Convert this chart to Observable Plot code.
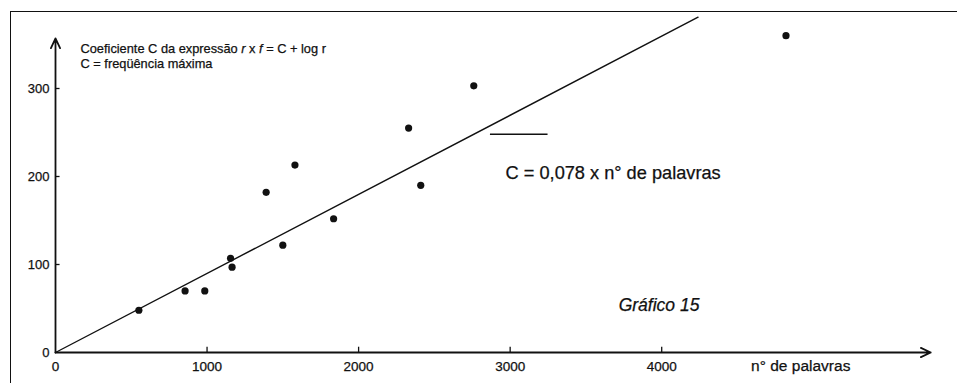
<!DOCTYPE html>
<html><head><meta charset="utf-8">
<script src="https://cdn.jsdelivr.net/npm/d3@7"></script>
<script src="https://cdn.jsdelivr.net/npm/@observablehq/plot@0.6"></script>
<style>
body{margin:0;background:#fff;}
#wrap{position:relative;width:957px;height:385px;overflow:hidden;}
#border{position:absolute;left:10px;top:11px;right:-5px;bottom:2px;border-left:1.5px solid #111;border-top:1.5px solid #111;pointer-events:none;}
svg{font-family:"Liberation Sans",Arial,sans-serif;}
svg text{stroke:#111;stroke-width:0.25px;}
</style></head><body>
<div id="wrap"><div id="border"></div></div>
<script>
// n° de palavras (x) and coefficient C (y)
const words = [550, 855, 985, 1155, 1165, 1390, 1500, 1580, 1835, 2330, 2410, 2760, 4820];
const coef  = [48, 70, 70, 107, 97, 182, 122, 213, 152, 255, 190, 303, 360];
const xTicks = [0, 1000, 2000, 3000, 4000];
const yTicks = [0, 100, 200, 300];
// drawn regression line endpoints
const fitX = [0, 4240];
const fitY = [0, 381];
const xAxisEnd = 5775;
const yAxisEnd = 357;

const points = words.map((w, i) => ({w, c: coef[i]}));
const fit = fitX.map((x, i) => ({x, y: fitY[i]}));
const ink = "#111";

const plot = Plot.plot({
  width: 957,
  height: 385,
  marginLeft: 55,
  marginRight: 23,
  marginTop: 0,
  marginBottom: 33,
  x: {type: "linear", domain: [0, 5800], axis: null},
  y: {type: "linear", domain: [0, 400], axis: null},
  style: {fontFamily: '"Liberation Sans", Arial, sans-serif', background: "transparent"},
  marks: [
    // axes with arrow heads
    Plot.arrow([0], {x1: 0, y1: 0, x2: xAxisEnd, y2: 0, stroke: ink, strokeWidth: 1.8, headLength: 9, headAngle: 50}),
    Plot.arrow([0], {x1: 0, y1: 0, x2: 0, y2: yAxisEnd, stroke: ink, strokeWidth: 1.8, headLength: 9, headAngle: 50}),
    // tick marks
    Plot.ruleX(xTicks.slice(1), {x: d => d, y1: 0, y2: 6, stroke: ink, strokeWidth: 1.3}),
    Plot.ruleY(yTicks.slice(1), {y: d => d, x1: 0, x2: 30, stroke: ink, strokeWidth: 1.3}),
    // tick labels
    Plot.text(xTicks, {x: d => d, y: 0, dy: 14, text: d => String(d), fontSize: 13.5, fill: ink}),
    Plot.text(yTicks, {x: 0, y: d => d, dx: -6, textAnchor: "end", text: d => String(d), fontSize: 13, fill: ink}),
    // regression line
    Plot.line(fit, {x: "x", y: "y", stroke: ink, strokeWidth: 1.4}),
    // leader line to equation
    Plot.ruleY([248], {x1: 2870, x2: 3250, stroke: ink, strokeWidth: 1.3}),
    // data points
    Plot.dot(points, {x: "w", y: "c", r: 3.6, fill: ink, stroke: "none"}),
    // annotations
    Plot.text(["Coeficiente C da expressão r x f = C + log r"], {x: 165, y: 345, textAnchor: "start", fontSize: 12.8, fill: ink}),
    Plot.text(["C = freqüência máxima"], {x: 165, y: 328, textAnchor: "start", fontSize: 12.8, fill: ink}),
    Plot.text(["C = 0,078 x n° de palavras"], {x: 2970, y: 204, textAnchor: "start", fontSize: 18.2, fill: ink}),
    Plot.text(["Gráfico 15"], {x: 3716, y: 53, textAnchor: "start", fontSize: 17.5, fontStyle: "italic", fill: ink}),
    Plot.text(["n° de palavras"], {x: 4590, y: 0, dy: 14, textAnchor: "start", fontSize: 15.5, fill: ink})
  ]
});

d3.select(plot).selectAll("text").each(function() {
  if (this.textContent.startsWith("Coeficiente")) {
    this.innerHTML = 'Coeficiente C da expressão <tspan font-style="italic">r</tspan> x <tspan font-style="italic">f</tspan> = C + log r';
  }
});

plot.style.position = "absolute";
plot.style.left = "0";
plot.style.top = "0";
document.getElementById("wrap").prepend(plot);
</script>
</body></html>
